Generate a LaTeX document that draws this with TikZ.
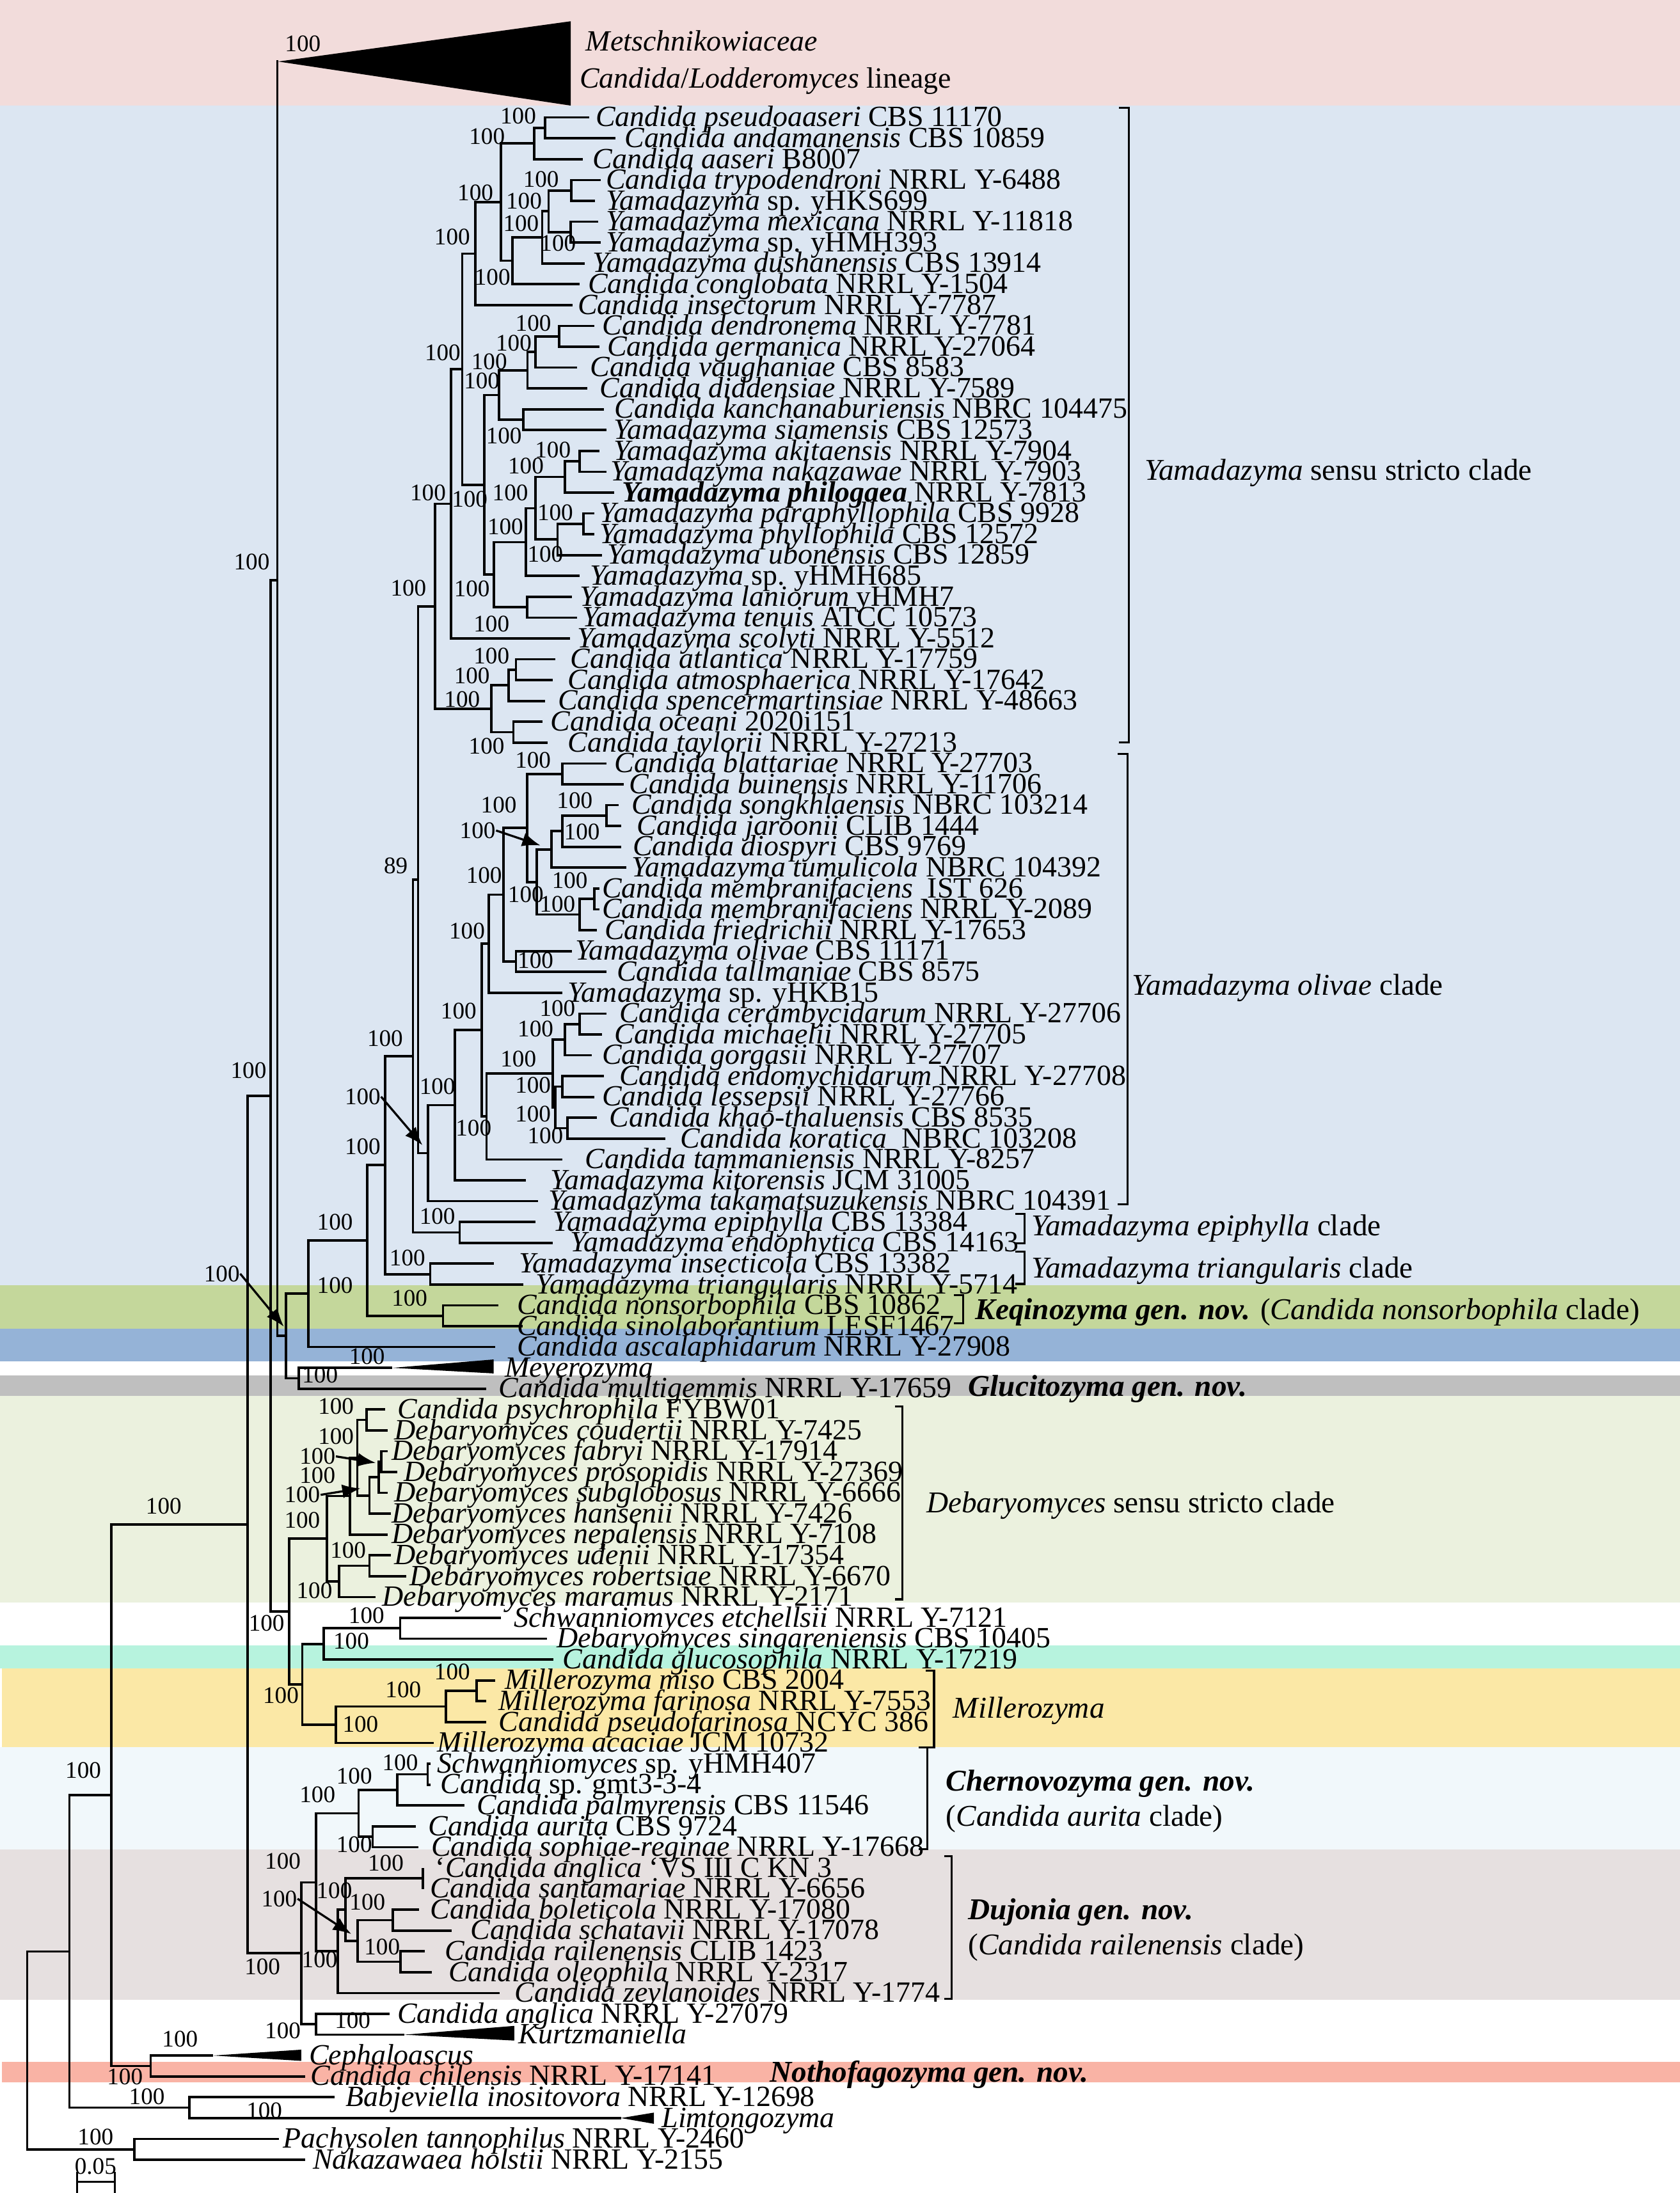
\documentclass[tikz,border=0pt]{standalone}
\usepackage{fontspec}
\setmainfont{Liberation Serif}
\usetikzlibrary{arrows.meta}
\definecolor{cpink}{HTML}{F2DCDB}
\definecolor{clblue}{HTML}{DCE6F2}
\definecolor{cgreen}{HTML}{C4D79B}
\definecolor{cblue}{HTML}{95B3D7}
\definecolor{cgray}{HTML}{BFBFBF}
\definecolor{cbeige}{HTML}{EBF1DE}
\definecolor{cmint}{HTML}{B7F3DE}
\definecolor{cyellow}{HTML}{FBE8A6}
\definecolor{cpale}{HTML}{F1F8FB}
\definecolor{cgpink}{HTML}{E6E0E0}
\definecolor{csalmon}{HTML}{F9B3A5}
\newcount\bscount
\newcommand\mytip[5]{\coordinate (#1) at (#3,{84+14.9*(#2-1)});
  \node[tiplab] (#1l) at (#4,{90.5+14.9*(#2-1)}) {#5};}
\newcommand\nd[3]{\coordinate (#1) at (#2,#3);}
\newcommand\edg[3]{\draw[br] (#1) |- (#2) (#1) |- (#3);}
\newcommand\bsl[2]{\global\advance\bscount by 1\relax\node[bslab] (bs\the\bscount) at (#1,#2) {100};}
\newcommand\bsn[3]{\node[bslab] (#1) at (#2,#3) {100};}
\tikzset{
  br/.style={line width=0.85pt, line join=miter},
  tiplab/.style={anchor=base west, inner sep=0pt, font=\fontsize{10.5}{12}\selectfont},
  bslab/.style={inner sep=0pt, font=\fontsize{8.5}{10}\selectfont},
  cladelab/.style={anchor=base west, inner sep=0pt, font=\fontsize{10.8}{12}\selectfont},
  brk/.style={line width=0.7pt},
  arr/.style={-{Latex[length=6.5pt,width=5pt]}, line width=0.75pt},
}
\begin{document}
\begin{tikzpicture}[x=0.5pt,y=-0.5pt]
\useasboundingbox (0,0) rectangle (1201,1568);
% ---------- background bands
\fill[white] (0,0) rectangle (1201,1568);
\fill[cpink] (0,0) rectangle (1201,75.5);
\fill[clblue] (0,75.5) rectangle (1201,919);
\fill[cgreen] (0,919) rectangle (1201,950.2);
\fill[cblue] (0,950.2) rectangle (1201,973.2);
\fill[cgray] (0,983.6) rectangle (1201,998.1);
\fill[cbeige] (0,998.1) rectangle (1201,1145.9);
\fill[cmint] (0,1176.3) rectangle (1201,1193);
\fill[cyellow] (1.2,1193) rectangle (1201,1249);
\fill[cpale] (0,1249) rectangle (1201,1322.3);
\fill[cgpink] (0,1322.3) rectangle (1201,1430);
\fill[csalmon] (1.2,1474.4) rectangle (1201,1489);
% ---------- internal nodes
\nd{n12}{389.7}{91.45}
\nd{n123}{381.9}{102.6}
\nd{n45}{408.6}{136.15}
\nd{n67}{408}{165.95}
\nd{nA}{392.2}{151.05}
\nd{nB}{387.6}{169.7}
\nd{nC}{366.5}{186.4}
\nd{nP3}{358.2}{144.5}
\nd{nP4}{339.9}{181.3}
\nd{n1112}{399.8}{240.45}
\nd{n1113}{383}{251.6}
\nd{n1114}{377.1}{264.7}
\nd{n1516}{374.3}{300.05}
\nd{n1116}{356.8}{282.4}
\nd{n1718}{414.5}{329.85}
\nd{n1719}{404}{341}
\nd{n2021}{417}{374.55}
\nd{n2022}{398.6}{385.7}
\nd{nZ1}{382.9}{363.35}
\nd{nZ}{375.9}{387.6}
\nd{n2425}{377}{434.15}
\nd{n2025}{353.1}{410.9}
\nd{nW}{346.3}{346.65}
\nd{nY}{330.5}{264}
\nd{n323}{322.5}{360.25}
\nd{n2728}{368.9}{478.85}
\nd{n2729}{363.6}{490}
\nd{n3031}{367.1}{523.55}
\nd{n2731}{351.4}{506.8}
\nd{n311}{311}{433.5}
\nd{n3233}{402.1}{553.35}
\nd{n3435}{433.7}{583.15}
\nd{n3436}{402.1}{594.3}
\nd{n3437}{394.4}{607.4}
\nd{n3839}{424.9}{642.75}
\nd{n3840}{414.4}{653.9}
\nd{n3440}{383.9}{630.65}
\nd{n3240}{377}{592}
\nd{n4142}{368.9}{687.45}
\nd{n3242}{360.1}{639.7}
\nd{n3243}{349.6}{674.75}
\nd{n4445}{414.4}{732.15}
\nd{n4446}{403.9}{743.3}
\nd{n4748}{402.1}{776.85}
\nd{n4950}{405.6}{806.65}
\nd{n4750}{396.9}{791.75}
\nd{n4450}{395.1}{767.5}
\nd{n4451}{347.9}{798.25}
\nd{nQ}{344.4}{736.5}
\nd{nX}{325.1}{790.2}
\nd{n306}{305.9}{824.5}
\nd{n299}{298.9}{629}
\nd{nepi}{328.6}{881.2}
\nd{n295}{295.3}{755.1}
\nd{nins}{307.6}{911}
\nd{n275}{275.3}{833}
\nd{nkeq}{316.8}{940.8}
\nd{n262}{262.4}{886.9}
\nd{n220}{220.4}{925}
\nd{nMM}{213.5}{985.45}
\nd{n204}{204.4}{955.2}
\nd{n198}{198.3}{415}
\nd{metsch}{198.9}{44}
\nd{meyB}{280.6}{978}
\nd{n193}{193.5}{783.6}
\nd{n6364}{262}{1015.25}
\nd{n6566}{272.5}{1045.05}
\nd{n6567}{270.8}{1056.2}
\nd{n6568}{264.2}{1069.25}
\nd{n6368}{255.5}{1042.25}
\nd{n6369}{250.2}{1069.7}
\nd{n7071}{264.2}{1119.55}
\nd{n7072}{242.4}{1130.7}
\nd{n6372}{233.6}{1100.2}
\nd{n7374}{286.1}{1164.25}
\nd{n7375}{231.4}{1175.4}
\nd{n7677}{340.8}{1208.95}
\nd{n7678}{318.9}{1220.1}
\nd{n7679}{240.2}{1233.15}
\nd{n215}{216.1}{1204.3}
\nd{n207}{206.6}{1152.25}
\nd{n8081}{305.8}{1268.55}
\nd{n8082}{283.9}{1279.7}
\nd{n8384}{266.4}{1313.25}
\nd{n8084}{256.4}{1296.5}
\nd{n8586}{302.5}{1343.05}
\nd{n8788}{281}{1372.85}
\nd{n8990}{286.3}{1402.65}
\nd{n8790}{255.8}{1387.75}
\nd{n8590}{246.9}{1365.4}
\nd{n8591}{241.6}{1395.2}
\nd{nDC}{225.9}{1345.85}
\nd{nKZ}{225.9}{1447.35}
\nd{kurtzB}{289}{1454.8}
\nd{n213}{215.4}{1396.6}
\nd{n177}{177}{1090.1}
\nd{cephB}{152.3}{1469.7}
\nd{n108}{107.7}{1477.15}
\nd{n80}{79.6}{1283.6}
\nd{limtB}{444}{1514.4}
\nd{n135}{135.5}{1506.95}
\nd{n50}{49.6}{1395.3}
\nd{n96}{96.1}{1536.75}
\nd{nroot}{19.5}{1466}
% ---------- tips
\mytip{t1}{1}{421.4}{425.6}{\textit{Candida pseudoaaseri} CBS 11170}
\mytip{t2}{2}{440}{446.2}{\textit{Candida andamanensis} CBS 10859}
\mytip{t3}{3}{416.7}{423.6}{\textit{Candida aaseri} B8007}
\mytip{t4}{4}{429.7}{432.9}{\textit{Candida trypodendroni} NRRL Y-6488}
\mytip{t5}{5}{425.5}{432.9}{\textit{Yamadazyma} sp. yHKS699}
\mytip{t6}{6}{427.7}{432.9}{\textit{Yamadazyma mexicana} NRRL Y-11818}
\mytip{t7}{7}{429.7}{432.9}{\textit{Yamadazyma} sp. yHMH393}
\mytip{t8}{8}{418}{423.5}{\textit{Yamadazyma dushanensis} CBS 13914}
\mytip{t9}{9}{414.5}{420}{\textit{Candida conglobata} NRRL Y-1504}
\mytip{t10}{10}{409.3}{412.8}{\textit{Candida insectorum} NRRL Y-7787}
\mytip{t11}{11}{425.1}{430.3}{\textit{Candida dendronema} NRRL Y-7781}
\mytip{t12}{12}{428.5}{433.8}{\textit{Candida germanica} NRRL Y-27064}
\mytip{t13}{13}{412.8}{421.5}{\textit{Candida vaughaniae} CBS 8583}
\mytip{t14}{14}{419.8}{428.5}{\textit{Candida diddensiae} NRRL Y-7589}
\mytip{t15}{15}{432}{439}{\textit{Candida kanchanaburiensis} NBRC 104475}
\mytip{t16}{16}{433.8}{438.3}{\textit{Yamadazyma siamensis} CBS 12573}
\mytip{t17}{17}{428.5}{438.3}{\textit{Yamadazyma akitaensis} NRRL Y-7904}
\mytip{t18}{18}{433.8}{436}{\textit{Yamadazyma nakazawae} NRRL Y-7903}
\mytip{t19}{19}{439}{444.3}{\textbf{\textit{Yamadazyma philogaea}} NRRL Y-7813}
\mytip{t20}{20}{425}{428.5}{\textit{Yamadazyma paraphyllophila} CBS 9928}
\mytip{t21}{21}{424.9}{428.4}{\textit{Yamadazyma phyllophila} CBS 12572}
\mytip{t22}{22}{430.2}{433.7}{\textit{Yamadazyma ubonensis} CBS 12859}
\mytip{t23}{23}{414.4}{421.4}{\textit{Yamadazyma} sp. yHMH685}
\mytip{t24}{24}{409.1}{414.4}{\textit{Yamadazyma laniorum} yHMH7}
\mytip{t25}{25}{412.6}{416.1}{\textit{Yamadazyma tenuis} ATCC 10573}
\mytip{t26}{26}{407.4}{412.6}{\textit{Yamadazyma scolyti} NRRL Y-5512}
\mytip{t27}{27}{396.9}{407.4}{\textit{Candida atlantica} NRRL Y-17759}
\mytip{t28}{28}{395.1}{405.6}{\textit{Candida atmosphaerica} NRRL Y-17642}
\mytip{t29}{29}{389.9}{398.6}{\textit{Candida spencermartinsiae} NRRL Y-48663}
\mytip{t30}{30}{388.1}{393.4}{\textit{Candida oceani} 2020i151}
\mytip{t31}{31}{391.6}{405.6}{\textit{Candida taylorii} NRRL Y-27213}
\mytip{t32}{32}{433.7}{438.9}{\textit{Candida blattariae} NRRL Y-27703}
\mytip{t33}{33}{445.9}{449.4}{\textit{Candida buinensis} NRRL Y-11706}
\mytip{t34}{34}{442.4}{451.2}{\textit{Candida songkhlaensis} NBRC 103214}
\mytip{t35}{35}{444.2}{455}{\textit{Candida jaroonii} CLIB 1444}
\mytip{t36}{36}{444.2}{452}{\textit{Candida diospyri} CBS 9769}
\mytip{t37}{37}{447.7}{451.2}{\textit{Yamadazyma tumulicola} NBRC 104392}
\mytip{t38}{38}{428.4}{430.1}{\textit{Candida membranifaciens}\ \ IST 626}
\mytip{t39}{39}{428.4}{430.1}{\textit{Candida membranifaciens} NRRL Y-2089}
\mytip{t40}{40}{426.7}{431.9}{\textit{Candida friedrichii} NRRL Y-17653}
\mytip{t41}{41}{409.1}{410.9}{\textit{Yamadazyma olivae} CBS 11171}
\mytip{t42}{42}{433.7}{440.7}{\textit{Candida tallmaniae} CBS 8575}
\mytip{t43}{43}{402.1}{405.6}{\textit{Yamadazyma} sp. yHKB15}
\mytip{t44}{44}{433.7}{442.4}{\textit{Candida cerambycidarum} NRRL Y-27706}
\mytip{t45}{45}{430.2}{438.9}{\textit{Candida michaelii} NRRL Y-27705}
\mytip{t46}{46}{423.1}{430.1}{\textit{Candida gorgasii} NRRL Y-27707}
\mytip{t47}{47}{431.9}{442.4}{\textit{Candida endomychidarum} NRRL Y-27708}
\mytip{t48}{48}{424.9}{430.1}{\textit{Candida lessepsii} NRRL Y-27766}
\mytip{t49}{49}{426.7}{435.4}{\textit{Candida khao-thaluensis} CBS 8535}
\mytip{t50}{50}{475.7}{486.2}{\textit{Candida koratica}\ \ NBRC 103208}
\mytip{t51}{51}{402.1}{417.9}{\textit{Candida tammaniensis} NRRL Y-8257}
\mytip{t52}{52}{375.9}{393.4}{\textit{Yamadazyma kitorensis} JCM 31005}
\mytip{t53}{53}{384.6}{391.6}{\textit{Yamadazyma takamatsuzukensis} NBRC 104391}
\mytip{t54}{54}{382.9}{395.1}{\textit{Yamadazyma epiphylla} CBS 13384}
\mytip{t55}{55}{395.1}{407.4}{\textit{Yamadazyma endophytica} CBS 14163}
\mytip{t56}{56}{353.1}{370.6}{\textit{Yamadazyma insecticola} CBS 13382}
\mytip{t57}{57}{374.1}{382.9}{\textit{Yamadazyma triangularis} NRRL Y-5714}
\mytip{t58}{58}{356.2}{369.3}{\textit{Candida nonsorbophila} CBS 10862}
\mytip{t59}{59}{373.7}{369.3}{\textit{Candida sinolaborantium} LESF1467}
\mytip{t60}{60}{354}{369.3}{\textit{Candida ascalaphidarum} NRRL Y-27908}
\mytip{t62}{62}{347.4}{356.2}{\textit{Candida multigemmis} NRRL Y-17659}
\mytip{t63}{63}{275.2}{283.9}{\textit{Candida psychrophila} FYBW01}
\mytip{t64}{64}{277.4}{281.7}{\textit{Debaryomyces coudertii} NRRL Y-7425}
\mytip{t65}{65}{277.4}{279.6}{\textit{Debaryomyces fabryi} NRRL Y-17914}
\mytip{t66}{66}{284}{288.3}{\textit{Debaryomyces prosopidis} NRRL Y-27369}
\mytip{t67}{67}{277.4}{281.7}{\textit{Debaryomyces subglobosus} NRRL Y-6666}
\mytip{t68}{68}{279.6}{279.6}{\textit{Debaryomyces hansenii} NRRL Y-7426}
\mytip{t69}{69}{277.4}{279.6}{\textit{Debaryomyces nepalensis} NRRL Y-7108}
\mytip{t70}{70}{279.6}{281.7}{\textit{Debaryomyces udenii} NRRL Y-17354}
\mytip{t71}{71}{290.5}{292.7}{\textit{Debaryomyces robertsiae} NRRL Y-6670}
\mytip{t72}{72}{268.6}{273}{\textit{Debaryomyces maramus} NRRL Y-2171}
\mytip{t73}{73}{358.3}{367.1}{\textit{Schwanniomyces etchellsii} NRRL Y-7121}
\mytip{t74}{74}{391.2}{397.7}{\textit{Debaryomyces singareniensis} CBS 10405}
\mytip{t75}{75}{395.5}{402.1}{\textit{Candida glucosophila} NRRL Y-17219}
\mytip{t76}{76}{353.9}{360.5}{\textit{Millerozyma miso} CBS 2004}
\mytip{t77}{77}{347.4}{356.2}{\textit{Millerozyma farinosa} NRRL Y-7553}
\mytip{t78}{78}{347.4}{356.2}{\textit{Candida pseudofarinosa} NCYC 386}
\mytip{t79}{79}{310.2}{312.4}{\textit{Millerozyma acaciae} JCM 10732}
\mytip{t80}{80}{308}{312.4}{\textit{Schwanniomyces} sp. yHMH407}
\mytip{t81}{81}{308}{314.6}{\textit{Candida} sp. gmt3-3-4}
\mytip{t82}{82}{332.1}{340.8}{\textit{Candida palmyrensis} CBS 11546}
\mytip{t83}{83}{297.1}{305.8}{\textit{Candida aurita} CBS 9724}
\mytip{t84}{84}{299.3}{308}{\textit{Candida sophiae-reginae} NRRL Y-17668}
\mytip{t85}{85}{302.5}{311}{\textquoteleft\textit{Candida anglica} \textquoteleft VS III C KN 3}
\mytip{t86}{86}{302.5}{307.3}{\textit{Candida santamariae} NRRL Y-6656}
\mytip{t87}{87}{299.4}{307.3}{\textit{Candida boleticola} NRRL Y-17080}
\mytip{t88}{88}{323.1}{336.2}{\textit{Candida schatavii} NRRL Y-17078}
\mytip{t89}{89}{303.6}{317.8}{\textit{Candida railenensis} CLIB 1423}
\mytip{t90}{90}{308.9}{320.4}{\textit{Candida oleophila} NRRL Y-2317}
\mytip{t91}{91}{357.2}{367.7}{\textit{Candida zeylanoides} NRRL Y-1774}
\mytip{t92}{92}{278.4}{283.7}{\textit{Candida anglica} NRRL Y-27079}
\mytip{t95}{95}{218}{221.7}{\textit{Candida chilensis} NRRL Y-17141}
\mytip{t96}{96}{239}{246.9}{\textit{Babjeviella inositovora} NRRL Y-12698}
\mytip{t98}{98}{199.6}{202.2}{\textit{Pachysolen tannophilus} NRRL Y-2460}
\mytip{t99}{99}{218}{223.3}{\textit{Nakazawaea holstii} NRRL Y-2155}
% collapsed clades
\node[tiplab] (metl1) at (418.5,36.2) {\textit{Metschnikowiaceae}};
\node[tiplab] (metl2) at (414.1,62.9) {\textit{Candida}/\textit{Lodderomyces} lineage};
\node[tiplab] (meyl) at (360.5,984.5) {\textit{Meyerozyma}};
\node[tiplab] (kurl) at (370.3,1461.3) {\textit{Kurtzmaniella}};
\node[tiplab] (cepl) at (220.6,1476.2) {\textit{Cephaloascus}};
\node[tiplab] (liml) at (472.8,1520.9) {\textit{Limtongozyma}};
% ---------- branches
\edg{n12}{t1}{t2}
\edg{n123}{n12}{t3}
\edg{n45}{t4}{t5}
\edg{n67}{t6}{t7}
\edg{nA}{n45}{n67}
\edg{nB}{nA}{t8}
\edg{nC}{nB}{t9}
\edg{nP3}{n123}{nC}
\edg{nP4}{nP3}{t10}
\edg{n1112}{t11}{t12}
\edg{n1113}{n1112}{t13}
\edg{n1114}{n1113}{t14}
\edg{n1516}{t15}{t16}
\edg{n1116}{n1114}{n1516}
\edg{n1718}{t17}{t18}
\edg{n1719}{n1718}{t19}
\edg{n2021}{t20}{t21}
\edg{n2022}{n2021}{t22}
\edg{nZ1}{n1719}{n2022}
\edg{nZ}{nZ1}{t23}
\edg{n2425}{t24}{t25}
\edg{n2025}{nZ}{n2425}
\edg{nW}{n1116}{n2025}
\edg{nY}{nP4}{nW}
\edg{n323}{nY}{t26}
\edg{n2728}{t27}{t28}
\edg{n2729}{n2728}{t29}
\edg{n3031}{t30}{t31}
\edg{n2731}{n2729}{n3031}
\edg{n311}{n323}{n2731}
\edg{n3233}{t32}{t33}
\edg{n3435}{t34}{t35}
\edg{n3436}{n3435}{t36}
\edg{n3437}{n3436}{t37}
\edg{n3839}{t38}{t39}
\edg{n3840}{n3839}{t40}
\edg{n3440}{n3437}{n3840}
\edg{n3240}{n3233}{n3440}
\edg{n4142}{t41}{t42}
\edg{n3242}{n3240}{n4142}
\edg{n3243}{n3242}{t43}
\edg{n4445}{t44}{t45}
\edg{n4446}{n4445}{t46}
\edg{n4748}{t47}{t48}
\edg{n4950}{t49}{t50}
\edg{n4750}{n4748}{n4950}
\edg{n4450}{n4446}{n4750}
\edg{n4451}{n4450}{t51}
\edg{nQ}{n3243}{n4451}
\edg{nX}{nQ}{t52}
\edg{n306}{nX}{t53}
\edg{n299}{n311}{n306}
\edg{nepi}{t54}{t55}
\edg{n295}{n299}{nepi}
\edg{nins}{t56}{t57}
\edg{n275}{n295}{nins}
\edg{nkeq}{t58}{t59}
\edg{n262}{n275}{nkeq}
\edg{n220}{n262}{t60}
\edg{nMM}{meyB}{t62}
\edg{n204}{n220}{nMM}
\edg{n198}{metsch}{n204}
\edg{n6364}{t63}{t64}
\edg{n6566}{t65}{t66}
\edg{n6567}{n6566}{t67}
\edg{n6568}{n6567}{t68}
\edg{n6368}{n6364}{n6568}
\edg{n6369}{n6368}{t69}
\edg{n7071}{t70}{t71}
\edg{n7072}{n7071}{t72}
\edg{n6372}{n6369}{n7072}
\edg{n7374}{t73}{t74}
\edg{n7375}{n7374}{t75}
\edg{n7677}{t76}{t77}
\edg{n7678}{n7677}{t78}
\edg{n7679}{n7678}{t79}
\edg{n215}{n7375}{n7679}
\edg{n207}{n6372}{n215}
\edg{n193}{n198}{n207}
\edg{n8081}{t80}{t81}
\edg{n8082}{n8081}{t82}
\edg{n8384}{t83}{t84}
\edg{n8084}{n8082}{n8384}
\edg{n8586}{t85}{t86}
\edg{n8788}{t87}{t88}
\edg{n8990}{t89}{t90}
\edg{n8790}{n8788}{n8990}
\edg{n8590}{n8586}{n8790}
\edg{n8591}{n8590}{t91}
\edg{nDC}{n8084}{n8591}
\edg{nKZ}{t92}{kurtzB}
\edg{n213}{nDC}{nKZ}
\edg{n177}{n193}{n213}
\edg{n108}{cephB}{t95}
\edg{n80}{n177}{n108}
\edg{n135}{t96}{limtB}
\edg{n50}{n80}{n135}
\edg{n96}{t98}{t99}
\edg{nroot}{n50}{n96}
% wedges (collapsed clades)
\fill[black] (metsch) -- (408.1,15.2) -- (408.1,75.5) -- cycle;
\fill[black] (meyB) -- (353,972) -- (353,982) -- cycle;
\fill[black] (kurtzB) -- (367.7,1448.5) -- (367.7,1459) -- cycle;
\fill[black] (cephB) -- (215.4,1465.5) -- (215.4,1473.5) -- cycle;
\fill[black] (limtB) -- (467.5,1510.5) -- (467.5,1518.5) -- cycle;
% ---------- bootstrap values
\bsl{216.5}{31.3}
\bsl{370.5}{83}
\bsl{348.2}{97.6}
\bsl{386.8}{128}
\bsl{374.6}{144}
\bsl{372.5}{160}
\bsl{399}{173.8}
\bsl{352.1}{198.2}
\bsl{339.9}{138}
\bsl{323.3}{169.2}
\bsl{381.3}{231}
\bsl{367.3}{245.5}
\bsl{349.8}{258.5}
\bsl{316.5}{252.4}
\bsl{344.5}{272.2}
\bsl{360.3}{311.8}
\bsl{395.3}{321.7}
\bsl{376}{333.2}
\bsl{364.8}{352.2}
\bsl{335.8}{356.8}
\bsl{306}{352.2}
\bsl{397}{366.7}
\bsl{361.3}{376.6}
\bsl{389.9}{396.4}
\bsl{337.4}{420.8}
\bsl{292}{420.5}
\bsl{351.4}{446.2}
\bsl{351.4}{468.8}
\bsl{337.4}{483.3}
\bsl{330.4}{500.1}
\bsl{347.9}{533.6}
\bsl{381.1}{543.5}
\bsl{410.9}{572.5}
\bsl{416.1}{594.6}
\bsn{bsC}{341.5}{593.8}
\bsl{407.4}{629.7}
\bsl{398.6}{646.5}
\bsl{375.9}{639.6}
\bsl{356.6}{575.6}
\bsl{382.9}{686.9}
\bsl{346.1}{625.9}
\bsl{333.9}{665.5}
\bsl{398.6}{721.2}
\bsl{382.9}{735.7}
\bsl{381.1}{776.1}
\bsl{389.9}{811.9}
\bsl{381.1}{796.7}
\bsl{370.6}{757}
\bsl{338.6}{806.6}
\bsl{327.9}{722.9}
\bsl{312.7}{777}
\bsn{bsB}{259.3}{784.1}
\node[bslab] (bs89) at (283,619) {89};
\bsl{275.3}{742.3}
\bsl{312.7}{869.9}
\bsl{291.3}{899.5}
\bsl{292.8}{928.1}
\bsl{259.3}{819.9}
\bsl{239.5}{874}
\bsl{239.5}{918.9}
\bsn{bsA}{158.6}{910.7}
\bsl{262.4}{969.9}
\bsl{228.8}{983.2}
\bsl{180}{401.9}
\bsl{177.7}{765.3}
\bsl{240.2}{1005.5}
\bsl{240.2}{1026.9}
\bsn{bsD}{227}{1041.3}
\bsl{227}{1055}
\bsn{bsE}{216.1}{1068.8}
\bsl{216.1}{1087.1}
\bsl{248.9}{1108.4}
\bsl{224.8}{1137.4}
\bsl{190.6}{1160.6}
\bsl{262}{1154.9}
\bsl{251.1}{1173.2}
\bsl{323.3}{1195.4}
\bsl{288.3}{1208.3}
\bsl{257.7}{1232.7}
\bsl{200.8}{1212.2}
\bsl{286.1}{1260.2}
\bsl{253.3}{1270}
\bsl{227}{1283}
\bsl{253.3}{1318.9}
\bsl{202.2}{1330.6}
\bsl{275.8}{1332.3}
\bsl{262.7}{1360.1}
\bsl{239}{1351.7}
\bsn{bsF}{199.6}{1357.6}
\bsl{273.2}{1392.1}
\bsl{228.5}{1401.4}
\bsl{187.6}{1406}
\bsl{252.1}{1444.4}
\bsl{202.2}{1452}
\bsl{128.7}{1457.9}
\bsl{89.3}{1484.8}
\bsl{105}{1499}
\bsl{189}{1509}
\bsl{68.3}{1527.8}
\bsl{117}{1077}
\bsl{59.5}{1266}
% arrows from displaced values
\nd{ar1}{202.9}{948.5}
\nd{ar2}{302}{818.8}
\nd{ar3}{386.4}{604.5}
\nd{ar4}{268.6}{1045.9}
\nd{ar5}{257.7}{1064.2}
\nd{ar6}{251.1}{1382.8}
\draw[arr] (bsA.east) -- (ar1);
\draw[arr] (bsB.east) -- (ar2);
\draw[arr] (bsC.east) -- (ar3);
\draw[arr] (bsD.east) -- (ar4);
\draw[arr] (bsE.east) -- (ar5);
\draw[arr] (bsF.east) -- (ar6);
% ---------- clade brackets
\draw[brk] (800,77) -- (807,77) -- (807,531) -- (800,531);
\draw[brk] (799,539) -- (806,539) -- (806,861) -- (799,861);
\draw[brk] (726,868) -- (732.4,868) -- (732.4,889) -- (726,889);
\draw[brk] (726,895) -- (732.4,895) -- (732.4,918) -- (726,918);
\draw[brk] (682,926) -- (688.7,926) -- (688.7,946) -- (682,946);
\draw[brk] (640,1005.5) -- (645,1005.5) -- (645,1143.5) -- (640,1143.5);
\draw[brk] (662,1194.6) -- (667.8,1194.6) -- (667.8,1249.5) -- (662,1249.5);
\draw[brk] (657,1249.5) -- (663,1249.5) -- (663,1322) -- (657,1322);
\draw[brk] (675,1327.2) -- (680.3,1327.2) -- (680.3,1429.2) -- (675,1429.2);
% ---------- clade labels
\node[cladelab] (cl1) at (818,343.5) {\textit{Yamadazyma} sensu stricto clade};
\node[cladelab] (cl2) at (809,711.5) {\textit{Yamadazyma olivae} clade};
\node[cladelab] (cl3) at (737,883.5) {\textit{Yamadazyma epiphylla} clade};
\node[cladelab] (cl4) at (737,913.5) {\textit{Yamadazyma triangularis} clade};
\node[cladelab] (cl5) at (697,943.5) {\textbf{\textit{Keqinozyma gen. nov.}} (\textit{Candida nonsorbophila} clade)};
\node[cladelab] (cl6) at (692,998.5) {\textbf{\textit{Glucitozyma gen. nov.}}};
\node[cladelab] (cl7) at (662,1081.5) {\textit{Debaryomyces} sensu stricto clade};
\node[cladelab] (cl8) at (681,1228.5) {\textit{Millerozyma}};
\node[cladelab] (cl9) at (676,1280.5) {\textbf{\textit{Chernovozyma gen. nov.}}};
\node[cladelab] (cl10) at (676,1305.5) {(\textit{Candida aurita} clade)};
\node[cladelab] (cl11) at (692,1372.5) {\textbf{\textit{Dujonia gen. nov.}}};
\node[cladelab] (cl12) at (692,1397.5) {(\textit{Candida railenensis} clade)};
\node[cladelab] (cl13) at (550,1488.5) {\textbf{\textit{Nothofagozyma gen. nov.}}};
% ---------- scale bar
\node[bslab] (sclab) at (68.3,1549) {0.05};
\draw[line width=0.8pt] (55.2,1553) -- (55.2,1568) (55.2,1560) -- (82,1560) (82,1553) -- (82,1568);
\end{tikzpicture}
\end{document}
